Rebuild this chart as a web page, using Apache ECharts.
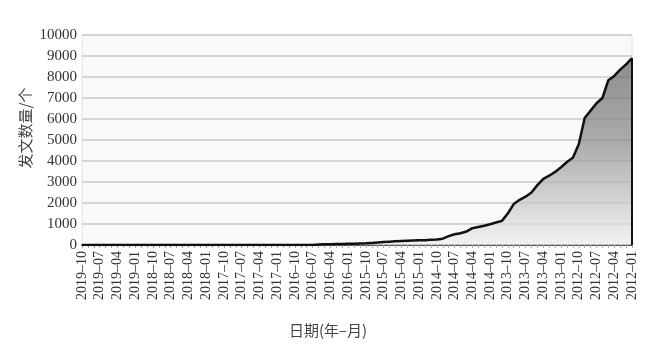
<!DOCTYPE html>
<html lang="zh">
<head>
    <meta charset="UTF-8">
    <title>发文数量</title>
    <script src="https://cdn.jsdelivr.net/npm/echarts@6/dist/echarts.min.js"></script>
    <style type="text/css">
        html, body { margin: 0; padding: 0; background: #fff; }
        #main { width: 663px; height: 353px; }
    </style>
</head>
<body>
<div id="main"></div>
<script>
    // 月份: 2019-10 倒序到 2012-01
    var years = [2019, 2018, 2017, 2016, 2015, 2014, 2013, 2012];
    var categories = [];
    for (var y = 0; y < years.length; y++) {
        var startM = years[y] == 2019 ? 10 : 12;
        for (var m = startM; m >= 1; m--) {
            categories.push(years[y] + '–' + (m < 10 ? '0' + m : m));
        }
    }

    // 发文数量
    var counts = [
        0, 0, 0, 0, 0, 0, 0, 0, 0, 0,
        0, 0, 0, 0, 0, 0, 0, 0, 0, 0,
        0, 0, 0, 0, 0, 0, 0, 0, 0, 0,
        0, 0, 0, 0, 0, 0, 0, 0, 0, 5,
        20, 30, 40, 45, 50, 55, 60, 70, 80, 100,
        120, 140, 160, 175, 190, 205, 220, 225, 230, 245,
        260, 300, 420, 510, 560, 640, 800, 860, 920, 990,
        1070, 1150, 1500, 1950, 2150, 2300, 2500, 2850, 3150, 3300,
        3480, 3700, 3950, 4150, 4800, 6050, 6400, 6750, 7000, 7850,
        8050, 8350, 8600, 8900
    ];

    var yTicks = { min: 0, max: 10000, step: 1000 };

    var serif = 'Times New Roman, Liberation Serif, serif';
    var cjk = 'Noto Sans CJK SC';

    var chart = echarts.init(document.getElementById('main'));
    var last = categories.length - 1;

    chart.setOption({
        animation: false,
        textStyle: { fontFamily: serif },
        grid: {
            left: 82, right: 31, top: 35, bottom: 108,
            show: true,
            backgroundColor: '#f9f9f9',
            borderColor: '#e2e2e2',
            borderWidth: 1
        },
        xAxis: {
            type: 'category',
            data: categories,
            boundaryGap: false,
            name: '日期(年–月)',
            nameLocation: 'middle',
            nameGap: 78,
            nameTextStyle: { fontFamily: cjk, fontSize: 15, color: '#444', padding: [0, 58, 0, 0] },
            axisLine: { lineStyle: { color: '#555', width: 2 } },
            axisTick: { show: true, interval: 0, length: 3, lineStyle: { color: '#aaa' } },
            axisLabel: {
                interval: 2,
                rotate: 90,
                margin: 6,
                fontFamily: serif,
                fontSize: 14,
                color: '#333'
            },
            splitLine: { show: false }
        },
        yAxis: {
            type: 'value',
            min: yTicks.min,
            max: yTicks.max,
            interval: yTicks.step,
            name: '发文数量/个',
            nameLocation: 'middle',
            nameGap: 49,
            nameMoveOverlap: false,
            nameRotate: 90,
            nameTextStyle: { fontFamily: cjk, fontSize: 15, color: '#444', padding: [0, 0, 0, 24] },
            axisLine: { show: false },
            axisTick: { show: false },
            axisLabel: {
                margin: 5, fontFamily: serif, fontSize: 15, color: '#333',
                formatter: function (v) { return String(v); }
            },
            splitLine: { lineStyle: { color: '#cacaca', width: 1.5 } }
        },
        series: [{
            type: 'line',
            data: counts,
            symbol: 'none',
            lineStyle: { color: '#111', width: 2.5 },
            areaStyle: {
                color: new echarts.graphic.LinearGradient(0, 0, 0, 1, [
                    { offset: 0, color: '#5f5f5f' },
                    { offset: 0.45, color: '#8a8a8a' },
                    { offset: 1, color: '#f0f0f0' }
                ])
            },
            markLine: {
                silent: true,
                symbol: 'none',
                label: { show: false },
                lineStyle: { color: '#111', width: 2, type: 'solid' },
                data: [[{ coord: [last, 0] }, { coord: [last, counts[last]] }]]
            }
        }]
    });
</script>
</body>
</html>
